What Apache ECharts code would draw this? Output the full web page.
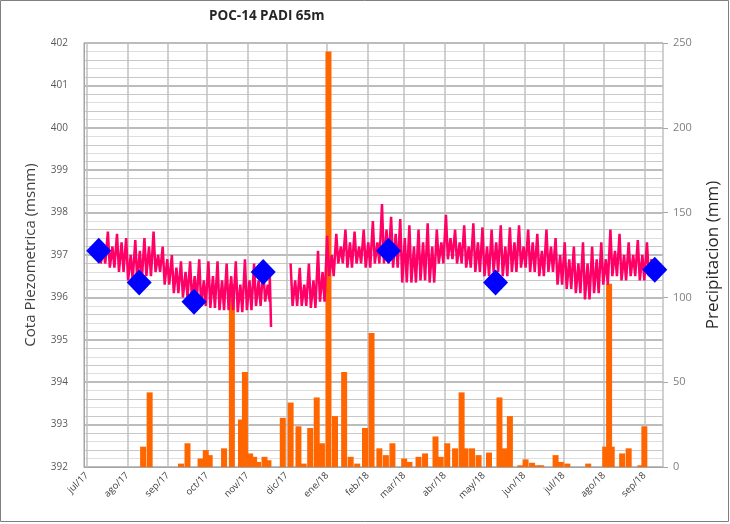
<!DOCTYPE html>
<html>
<head>
<meta charset="utf-8">
<script src="https://cdn.jsdelivr.net/npm/echarts@6/dist/echarts.min.js"></script>
<style>
html,body{margin:0;padding:0;background:#fff;}
#chart{width:730px;height:524px;}
</style>
</head>
<body>
<div id="chart"></div>
<script>
// ---- Data ----
var monthNames = ['ene','feb','mar','abr','may','jun','jul','ago','sep','oct','nov','dic'];

// Precipitation (mm)
var rainDates = ['2017-08-13','2017-08-18','2017-09-11','2017-09-16','2017-09-26','2017-09-30','2017-10-03','2017-10-14','2017-10-20','2017-10-27','2017-10-30','2017-11-03','2017-11-06','2017-11-09','2017-11-14','2017-11-17','2017-11-28','2017-12-04','2017-12-10','2017-12-14','2017-12-19','2017-12-24','2017-12-28','2018-01-02','2018-01-07','2018-01-14','2018-01-19','2018-01-24','2018-01-30','2018-02-04','2018-02-10','2018-02-15','2018-02-20','2018-03-01','2018-03-05','2018-03-12','2018-03-17','2018-03-25','2018-03-29','2018-04-03','2018-04-09','2018-04-14','2018-04-17','2018-04-22','2018-04-27','2018-05-05','2018-05-13','2018-05-17','2018-05-21','2018-05-29','2018-06-02','2018-06-07','2018-06-11','2018-06-14','2018-06-25','2018-06-29','2018-07-04','2018-07-20','2018-08-02','2018-08-05','2018-08-07','2018-08-15','2018-08-20','2018-08-29','2018-09-01'];
var rainValues = [12,44,2,14,5,10,7,11,108,28,56,8,6,3,6,4,29,38,24,2,23,41,14,245,30,56,6,2,23,79,11,7,14,5,3,6,8,18,6,14,11,44,11,11,7,8.5,41,11,30,1,4.5,2.5,1,1,7,3,2,2,12,108,12,8,11,1,24];

// Piezometric level: weekly main peak, low and secondary peak (msnm)
var pzDates = ['2017-07-10','2017-07-17','2017-07-24','2017-07-31','2017-08-07','2017-08-14','2017-08-21','2017-08-28','2017-09-04','2017-09-11','2017-09-18','2017-09-25','2017-10-02','2017-10-09','2017-10-16','2017-10-23','2017-10-30','2017-11-06','2017-11-13','2017-11-18','2017-11-27','2017-12-04','2017-12-11','2017-12-18','2017-12-25','2018-01-01','2018-01-08','2018-01-15','2018-01-22','2018-01-29','2018-02-05','2018-02-12','2018-02-19','2018-02-26','2018-03-05','2018-03-12','2018-03-19','2018-03-26','2018-04-02','2018-04-09','2018-04-16','2018-04-23','2018-04-30','2018-05-07','2018-05-14','2018-05-21','2018-05-28','2018-06-04','2018-06-11','2018-06-18','2018-06-25','2018-07-02','2018-07-09','2018-07-16','2018-07-23','2018-07-30','2018-08-06','2018-08-13','2018-08-20','2018-08-27','2018-09-03'];
var pzPeaks = [397.3,397.55,397.5,397.4,397.35,397.4,397.55,397.2,397.0,396.85,396.85,396.9,396.85,396.85,396.8,396.85,396.9,396.8,396.7,396.6,null,396.8,396.7,396.8,397.1,397.45,397.5,397.6,397.55,397.6,397.8,398.2,397.9,397.85,397.7,397.6,397.75,397.6,397.95,397.6,397.7,397.75,397.65,397.6,397.7,397.65,397.7,397.6,397.5,397.6,397.4,397.3,397.2,397.3,397.2,397.3,397.6,397.5,397.3,397.35,397.3];
var pzLows = [396.8,396.7,396.6,396.4,396.4,396.5,396.6,396.3,396.1,396.0,395.9,395.8,395.75,395.7,395.7,395.65,395.7,395.8,395.9,395.3,null,395.8,395.8,395.75,395.9,396.5,396.8,396.7,396.8,396.7,396.8,396.8,396.7,396.35,396.35,396.4,396.35,396.8,396.9,396.8,396.7,396.6,396.5,396.6,396.5,396.6,396.7,396.6,396.5,396.6,396.3,396.2,396.1,395.95,396.1,396.3,396.5,396.4,396.5,396.4,396.5];
var pzMids = [397.1,397.2,397.3,397.0,397.1,397.2,397.0,396.9,396.7,396.6,396.5,396.4,396.5,396.4,396.5,396.3,396.4,396.4,396.3,null,null,396.4,396.3,396.4,396.6,397.0,397.2,397.3,397.2,397.3,397.3,397.6,397.5,397.4,397.2,397.3,397.2,397.3,397.4,397.3,397.2,397.3,397.2,397.3,397.2,397.3,397.2,397.3,397.1,397.2,397.0,396.9,396.8,396.8,396.9,396.9,397.1,397.0,397.0,397.0,396.9];

// Manual measurements (msnm)
var mDates = ['2017-07-10','2017-08-10','2017-09-21','2017-11-13','2018-02-17','2018-05-10','2018-09-09'];
var mValues = [397.1,396.35,395.9,396.6,397.1,396.35,396.65];

// ---- Helpers ----
function parseDate(s, addDays) {
  var p = s.split('-');
  var base = new Date(+p[0], +p[1] - 1, +p[2]).getTime();
  return base + (addDays || 0) * 86400000;
}
var rainData = rainDates.map(function (d, i) { return [parseDate(d), rainValues[i]]; });
var pzData = [];
pzDates.forEach(function (d, i) {
  if (pzPeaks[i] == null) { pzData.push([parseDate(d), null]); return; }
  pzData.push([parseDate(d), pzPeaks[i]]);
  if (pzMids[i] == null) { pzData.push([parseDate(d, 1), pzLows[i]]); return; }
  pzData.push([parseDate(d, 1.5), pzLows[i]]);
  pzData.push([parseDate(d, 3.5), pzMids[i]]);
  pzData.push([parseDate(d, 5), pzLows[i]]);
});
var mData = mDates.map(function (d, i) { return [parseDate(d), mValues[i]]; });

var FONT = '"Open Sans", "Liberation Sans", sans-serif';
var DAY = 86400000;

var chart = echarts.init(document.getElementById('chart'), null, { renderer: 'canvas' });
chart.setOption({
  animation: false,
  backgroundColor: '#ffffff',
  title: {
    text: 'POC-14 PADI 65m',
    left: 204, top: 4,
    textStyle: { fontFamily: FONT, fontSize: 13.5, fontWeight: 'bold', color: '#262626' }
  },
  graphic: [{
    type: 'rect', silent: true, z: 100,
    shape: { x: 0.5, y: 0.5, width: 728, height: 521 },
    style: { fill: 'none', stroke: '#7f7f7f', lineWidth: 1 }
  }],
  grid: { left: 84, right: 66, top: 43, bottom: 57, containLabel: false },
  xAxis: {
    type: 'time',
    min: parseDate('2017-07-01'),
    max: parseDate('2018-09-13'),
    splitNumber: 15,
    minInterval: 28 * DAY,
    maxInterval: 31 * DAY,
    axisLine: { show: true, lineStyle: { color: '#a6a6a6', width: 1 } },
    axisTick: { show: false },
    axisLabel: {
      rotate: 45, fontSize: 9.5, color: '#404040', fontFamily: FONT, margin: 7,
      showMaxLabel: false, hideOverlap: false,
      formatter: function (v) {
        var d = new Date(v);
        return monthNames[d.getMonth()] + '/' + String(d.getFullYear()).slice(2);
      }
    },
    splitLine: { show: true, lineStyle: { color: '#c0c0c0', width: 1.5 } }
  },
  yAxis: [{
    type: 'value', min: 392, max: 402, interval: 1,
    name: 'Cota Piezometrica (msnm)', nameLocation: 'middle', nameGap: 46, nameRotate: 90,
    nameTextStyle: { fontFamily: FONT, fontSize: 15, color: '#404040' },
    axisLine: { show: true, lineStyle: { color: '#a6a6a6' } },
    axisTick: { show: false },
    minorTick: { show: false, splitNumber: 5 },
    axisLabel: { fontSize: 10, color: '#595959', fontFamily: FONT, margin: 16 },
    splitLine: { show: true, lineStyle: { color: '#a6a6a6', width: 1.5 } },
    minorSplitLine: { show: true, lineStyle: { color: '#dedede', width: 1 } }
  }, {
    type: 'value', min: 0, max: 250, interval: 50, position: 'right',
    name: 'Precipitacion (mm)', nameLocation: 'middle', nameGap: 42, nameRotate: 90,
    nameTextStyle: { fontFamily: FONT, fontSize: 17, color: '#262626' },
    axisLine: { show: false },
    axisTick: { show: true, length: 5, lineStyle: { color: '#a6a6a6' } },
    minorTick: { show: false, splitNumber: 5 },
    axisLabel: { fontSize: 11, color: '#7f7f7f', fontFamily: FONT, margin: 10 },
    splitLine: { show: false },
    minorSplitLine: { show: true, lineStyle: { color: '#c8c8c8', width: 1 } }
  }],
  series: [{
    name: 'Precipitacion', type: 'bar', yAxisIndex: 1, z: 2,
    data: rainData, barWidth: 6,
    itemStyle: { color: '#ff6600' }
  }, {
    name: 'Cota', type: 'line', yAxisIndex: 0, z: 3,
    data: pzData, showSymbol: false, connectNulls: false,
    lineStyle: { color: '#ff0066', width: 2.5 }
  }, {
    name: 'Medicion', type: 'scatter', yAxisIndex: 0, z: 10,
    data: mData, symbol: 'diamond', symbolSize: [25, 26],
    itemStyle: { color: '#0000ff', opacity: 1 }
  }]
});
</script>
</body>
</html>
